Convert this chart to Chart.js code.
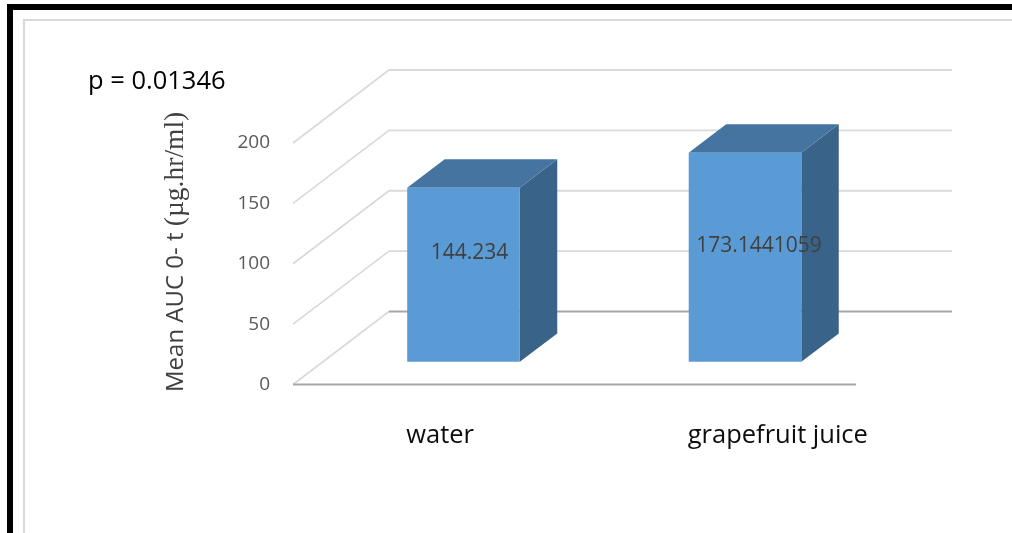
<!DOCTYPE html>
<html>
<head>
<meta charset="utf-8">
<script src="https://cdn.jsdelivr.net/npm/chart.js@4.4.1/dist/chart.umd.min.js"></script>
<style>
  html, body { margin: 0; padding: 0; background: #fff; overflow: hidden; }
  canvas { display: block; }
</style>
</head>
<body>
<canvas id="auc" width="1012" height="533"></canvas>
<script>
// Mean AUC 0-t per drink
const categories = ['water', 'grapefruit juice'];
const meanAuc = [144.234, 173.1441059];
const yTicks = [0, 50, 100, 150, 200];
const pValueText = 'p = 0.01346';
const yTitleSans = 'Mean AUC 0- t ';
const yTitleSerif = '(\u00b5g.hr/ml)';

// oblique depth of the 3-D plot box (front plane -> back wall)
const DEPTH_DX = 96, DEPTH_DY = -73;
const BAR_FRONT = 0.31, BAR_BACK = 0.70;
const proj = (x, y, d) => [x + DEPTH_DX * d, y + DEPTH_DY * d];

const SANS = '"Open Sans", "Noto Sans", sans-serif';
const SERIF = '"Liberation Serif", "DejaVu Serif", serif';

// value-label placement inside each bar face
const LABEL_SHIFT = [[6, -22], [14, -11]];

function line(ctx, x1, y1, x2, y2, color, w) {
  ctx.beginPath();
  ctx.moveTo(x1, y1);
  ctx.lineTo(x2, y2);
  ctx.strokeStyle = color;
  ctx.lineWidth = w;
  ctx.stroke();
}

function poly(ctx, pts, color) {
  ctx.beginPath();
  ctx.moveTo(pts[0][0], pts[0][1]);
  for (let i = 1; i < pts.length; i++) ctx.lineTo(pts[i][0], pts[i][1]);
  ctx.closePath();
  ctx.fillStyle = color;
  ctx.fill();
}

const box3d = {
  id: 'box3d',
  beforeDraw(chart) {
    const ctx = chart.ctx;
    ctx.save();
    // page frame
    ctx.fillStyle = '#000';
    ctx.fillRect(7, 4, 1005, 6);
    ctx.fillRect(7, 4, 6, 529);
    ctx.fillStyle = '#d9d9d9';
    ctx.fillRect(23, 19, 989, 2);
    ctx.fillRect(23, 19, 2, 514);

    // p-value note
    ctx.fillStyle = '#000';
    ctx.font = '25.5px ' + SANS;
    ctx.textAlign = 'left';
    ctx.textBaseline = 'alphabetic';
    ctx.fillText(pValueText, 88, 89);

    // y-axis title: sans part then serif unit
    ctx.translate(183, 392);
    ctx.rotate(-Math.PI / 2);
    ctx.fillStyle = '#404040';
    ctx.font = '24px ' + SANS;
    ctx.fillText(yTitleSans, 0, 0);
    const w = ctx.measureText(yTitleSans).width;
    ctx.font = '27.5px ' + SERIF;
    ctx.fillText(yTitleSerif, w, 0);
    ctx.restore();
  },
  beforeDatasetsDraw(chart) {
    const {ctx, chartArea: a, scales: {y}} = chart;
    ctx.save();
    yTicks.forEach(v => {
      const py = y.getPixelForValue(v);
      const [bx, by] = proj(a.left, py, 1);
      const [ex] = proj(a.right, py, 1);
      // side wall diagonal
      line(ctx, a.left, py, bx, by, '#d9d9d9', 1.6);
      // back wall gridline
      line(ctx, bx, by, ex, by, v === 0 ? '#a6a6a6' : '#d9d9d9', v === 0 ? 2.2 : 1.8);
    });
    // front floor edge
    const y0 = y.getPixelForValue(0);
    line(ctx, a.left, y0, a.right, y0, '#a6a6a6', 2.2);
    ctx.restore();
  },
  afterDatasetsDraw(chart) {
    const {ctx, scales: {y}} = chart;
    const meta = chart.getDatasetMeta(0);
    ctx.save();
    meta.data.forEach((bar, i) => {
      const {x, y: top, base, width} = bar.getProps(['x', 'y', 'base', 'width'], true);
      const l = x - width / 2, r = x + width / 2;
      const fTL = proj(l, top, BAR_FRONT), fTR = proj(r, top, BAR_FRONT);
      const fBR = proj(r, base, BAR_FRONT), fBL = proj(l, base, BAR_FRONT);
      const bTL = proj(l, top, BAR_BACK), bTR = proj(r, top, BAR_BACK);
      const bBR = proj(r, base, BAR_BACK);
      poly(ctx, [fTR, bTR, bBR, fBR], '#3a6389');   // right side
      poly(ctx, [fTL, fTR, bTR, bTL], '#4574a1');   // top
      poly(ctx, [fTL, fTR, fBR, fBL], '#5b9bd5');   // front

      // value label
      const cx = (fTL[0] + fTR[0]) / 2 + LABEL_SHIFT[i][0];
      const cy = (fTL[1] + fBL[1]) / 2 + LABEL_SHIFT[i][1];
      ctx.fillStyle = '#404040';
      ctx.font = '21px ' + SANS;
      ctx.textAlign = 'center';
      ctx.textBaseline = 'middle';
      ctx.fillText(String(meanAuc[i]), cx, cy);

      // category label, under the bar face
      ctx.fillStyle = '#0d0d0d';
      ctx.font = '25.5px ' + SANS;
      ctx.textAlign = 'left';
      ctx.textBaseline = 'alphabetic';
      ctx.fillText(categories[i], fBL[0] - 1, y.getPixelForValue(0) + 58);
    });
    ctx.restore();
  }
};

new Chart(document.getElementById('auc'), {
  type: 'bar',
  data: {
    labels: categories,
    datasets: [{
      data: meanAuc,
      backgroundColor: 'rgba(0,0,0,0)',
      borderWidth: 0,
      barPercentage: 0.4,
      categoryPercentage: 1
    }]
  },
  options: {
    responsive: false,
    animation: false,
    devicePixelRatio: 1,
    layout: { padding: { left: 213, right: 156, top: 143, bottom: 148.5 } },
    plugins: { legend: { display: false }, tooltip: { enabled: false }, title: { display: false } },
    scales: {
      x: { display: false, offset: true },
      y: {
        min: 0,
        max: 200,
        afterFit(scale) { scale.width = 80; },
        afterBuildTicks(scale) { scale.ticks = yTicks.map(v => ({ value: v })); },
        grid: { display: false, drawTicks: false },
        border: { display: false },
        ticks: {
          padding: 23,
          color: '#595959',
          font: { family: SANS, size: 19 }
        }
      }
    }
  },
  plugins: [box3d]
});
</script>
</body>
</html>
